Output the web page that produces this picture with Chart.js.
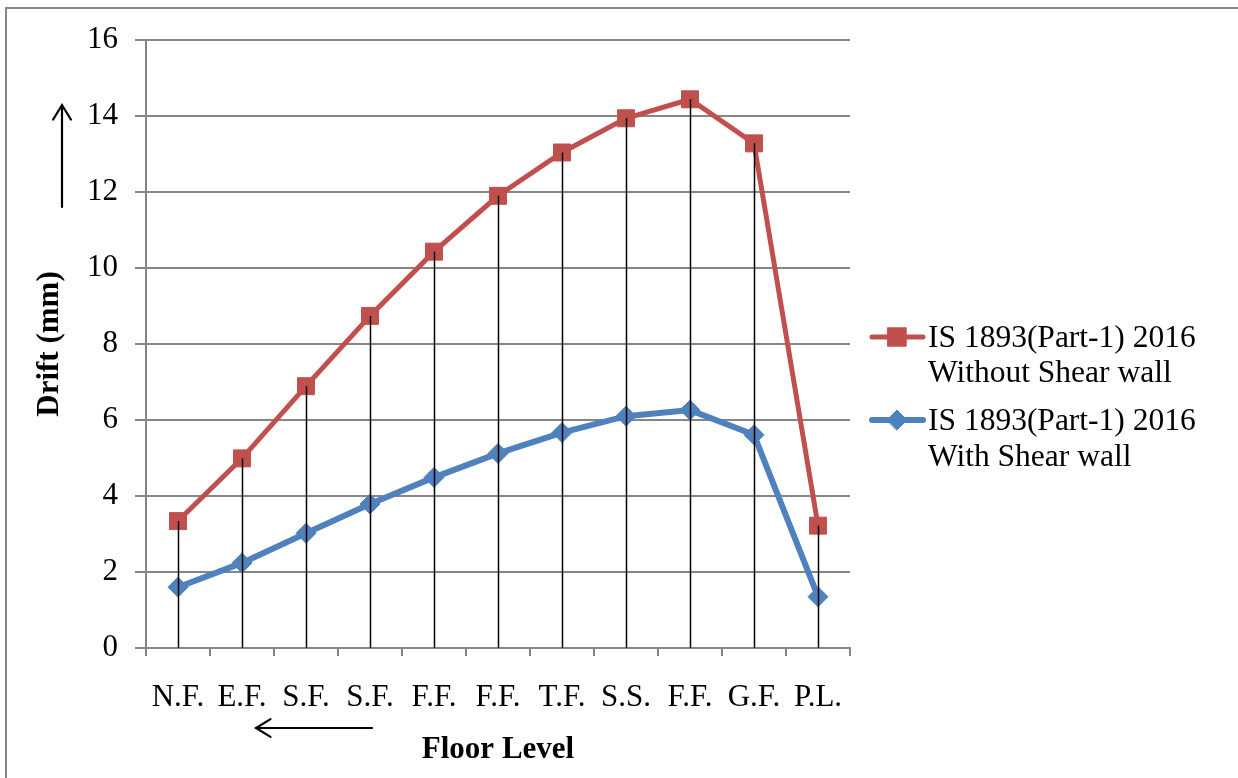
<!DOCTYPE html>
<html>
<head>
<meta charset="utf-8">
<title>Drift vs Floor Level</title>
<script src="https://cdn.jsdelivr.net/npm/chart.js@4.4.1/dist/chart.umd.min.js"></script>
<style>
  html, body { margin: 0; padding: 0; background: #fff; }
  #wrap { width: 1238px; height: 778px; }
</style>
</head>
<body>
<div id="wrap"><canvas id="driftChart" width="1238" height="778"></canvas></div>
<script>
// ── Data ────────────────────────────────────────────────
const floorLabels = ['N.F.', 'E.F.', 'S.F.', 'S.F.', 'F.F.', 'F.F.', 'T.F.', 'S.S.', 'F.F.', 'G.F.', 'P.L.'];
const withoutShearWall = [3.34, 4.99, 6.89, 8.74, 10.43, 11.90, 13.04, 13.94, 14.44, 13.28, 3.22];
const withShearWall    = [1.60, 2.24, 3.02, 3.79, 4.49, 5.12, 5.67, 6.10, 6.26, 5.61, 1.35];
const seriesNames = [
  ['IS 1893(Part-1) 2016', 'Without Shear wall'],
  ['IS 1893(Part-1) 2016', 'With Shear wall']
];
const yTicks = { min: 0, max: 16, step: 2 };

const RED  = '#C0504D';
const BLUE = '#4F81BD';
const GRID = '#868686';
const FONT = '"Liberation Serif", "Times New Roman", serif';

// ── Plugins ─────────────────────────────────────────────
// outer frame like the Excel chart border
const framePlugin = {
  id: 'frame',
  beforeDraw(chart) {
    const { ctx } = chart;
    ctx.save();
    ctx.fillStyle = '#fff';
    ctx.fillRect(0, 0, chart.width, chart.height);
    ctx.strokeStyle = GRID;
    ctx.lineWidth = 2;
    ctx.strokeRect(6, 8, chart.width + 20, chart.height + 20);
    ctx.restore();
  }
};

// vertical drop lines from the highest point to the axis
const dropLinesPlugin = {
  id: 'dropLines',
  afterDatasetsDraw(chart) {
    const { ctx, scales: { y } } = chart;
    const meta = chart.getDatasetMeta(0);
    ctx.save();
    ctx.strokeStyle = '#000';
    ctx.lineWidth = 1.5;
    meta.data.forEach((pt, i) => {
      const top = Math.max(...chart.data.datasets.map(d => d.data[i]));
      const x = Math.round(pt.x) + 0.5;
      ctx.beginPath();
      ctx.moveTo(x, y.getPixelForValue(top));
      ctx.lineTo(x, y.getPixelForValue(yTicks.min));
      ctx.stroke();
    });
    ctx.restore();
  }
};

function drawArrow(ctx, x1, y1, x2, y2) {
  const ang = Math.atan2(y2 - y1, x2 - x1);
  const len = 17, spread = 0.55;
  ctx.beginPath();
  ctx.moveTo(x1, y1);
  ctx.lineTo(x2, y2);
  ctx.moveTo(x2 - len * Math.cos(ang - spread), y2 - len * Math.sin(ang - spread));
  ctx.lineTo(x2, y2);
  ctx.lineTo(x2 - len * Math.cos(ang + spread), y2 - len * Math.sin(ang + spread));
  ctx.stroke();
}

// direction arrows + two-line legend at the right
const extrasPlugin = {
  id: 'extras',
  afterDraw(chart) {
    const { ctx } = chart;
    ctx.save();
    ctx.strokeStyle = '#000';
    ctx.lineWidth = 2.2;
    ctx.lineCap = 'round';
    drawArrow(ctx, 62, 207, 62, 105);
    drawArrow(ctx, 372, 728, 256, 728);

    const rows = [{ y: 337, y2: 373 }, { y: 420, y2: 457 }];
    chart.data.datasets.forEach((ds, i) => {
      const r = rows[i];
      ctx.strokeStyle = ds.borderColor;
      ctx.lineWidth = ds.borderWidth;
      ctx.lineCap = 'round';
      ctx.beginPath();
      ctx.moveTo(872, r.y);
      ctx.lineTo(923, r.y);
      ctx.stroke();
      ctx.fillStyle = ds.pointBackgroundColor;
      ctx.strokeStyle = ds.pointBorderColor;
      ctx.lineWidth = 1;
      Chart.helpers.drawPoint(ctx, { pointStyle: ds.pointStyle, radius: ds.legendRadius, borderWidth: 1 }, 897, r.y);
      ctx.fillStyle = '#000';
      ctx.font = '31.5px ' + FONT;
      ctx.textBaseline = 'middle';
      ctx.textAlign = 'left';
      ctx.fillText(seriesNames[i][0], 928, r.y + 2);
      ctx.fillText(seriesNames[i][1], 928, r.y2 + 1);
    });
    ctx.restore();
  }
};

// ── Chart ───────────────────────────────────────────────
const ctx = document.getElementById('driftChart');
new Chart(ctx, {
  type: 'line',
  data: {
    labels: floorLabels,
    datasets: [
      {
        label: seriesNames[0].join(' '),
        data: withoutShearWall,
        borderColor: RED,
        borderWidth: 5,
        pointStyle: 'rect',
        pointRadius: 12,
        legendRadius: 13,
        pointBackgroundColor: RED,
        pointBorderColor: RED,
        pointBorderWidth: 1,
        tension: 0
      },
      {
        label: seriesNames[1].join(' '),
        data: withShearWall,
        borderColor: BLUE,
        borderWidth: 6,
        pointStyle: 'rectRot',
        pointRadius: 10,
        legendRadius: 10,
        pointBackgroundColor: BLUE,
        pointBorderColor: BLUE,
        pointBorderWidth: 1,
        tension: 0
      }
    ]
  },
  options: {
    responsive: false,
    animation: false,
    layout: { padding: { top: 40, right: 388, left: 0, bottom: 0 } },
    plugins: { legend: { display: false }, tooltip: { enabled: false } },
    scales: {
      x: {
        offset: true,
        afterFit: s => { s.height = 130; },
        grid: { offset: true, drawOnChartArea: false, drawTicks: true, tickLength: 8, color: GRID, lineWidth: 2 },
        border: { color: GRID, width: 2 },
        ticks: { color: '#000', padding: 23, maxRotation: 0, autoSkip: false, font: { family: FONT, size: 31 } },
        title: {
          display: true, text: 'Floor Level', color: '#000',
          padding: { top: 0, bottom: 9 },
          font: { family: FONT, size: 31, weight: 'bold' }
        }
      },
      y: {
        min: yTicks.min,
        max: yTicks.max,
        afterFit: s => { s.width = 146; },
        grid: { color: GRID, lineWidth: 2, tickLength: 11 },
        border: { color: GRID, width: 2 },
        ticks: { stepSize: yTicks.step, color: '#000', padding: 17, font: { family: FONT, size: 31 } },
        title: {
          display: true, text: 'Drift (mm)', color: '#000',
          padding: { top: 31, bottom: 0 },
          font: { family: FONT, size: 31, weight: 'bold' }
        }
      }
    }
  },
  plugins: [framePlugin, dropLinesPlugin, extrasPlugin]
});
</script>
</body>
</html>
